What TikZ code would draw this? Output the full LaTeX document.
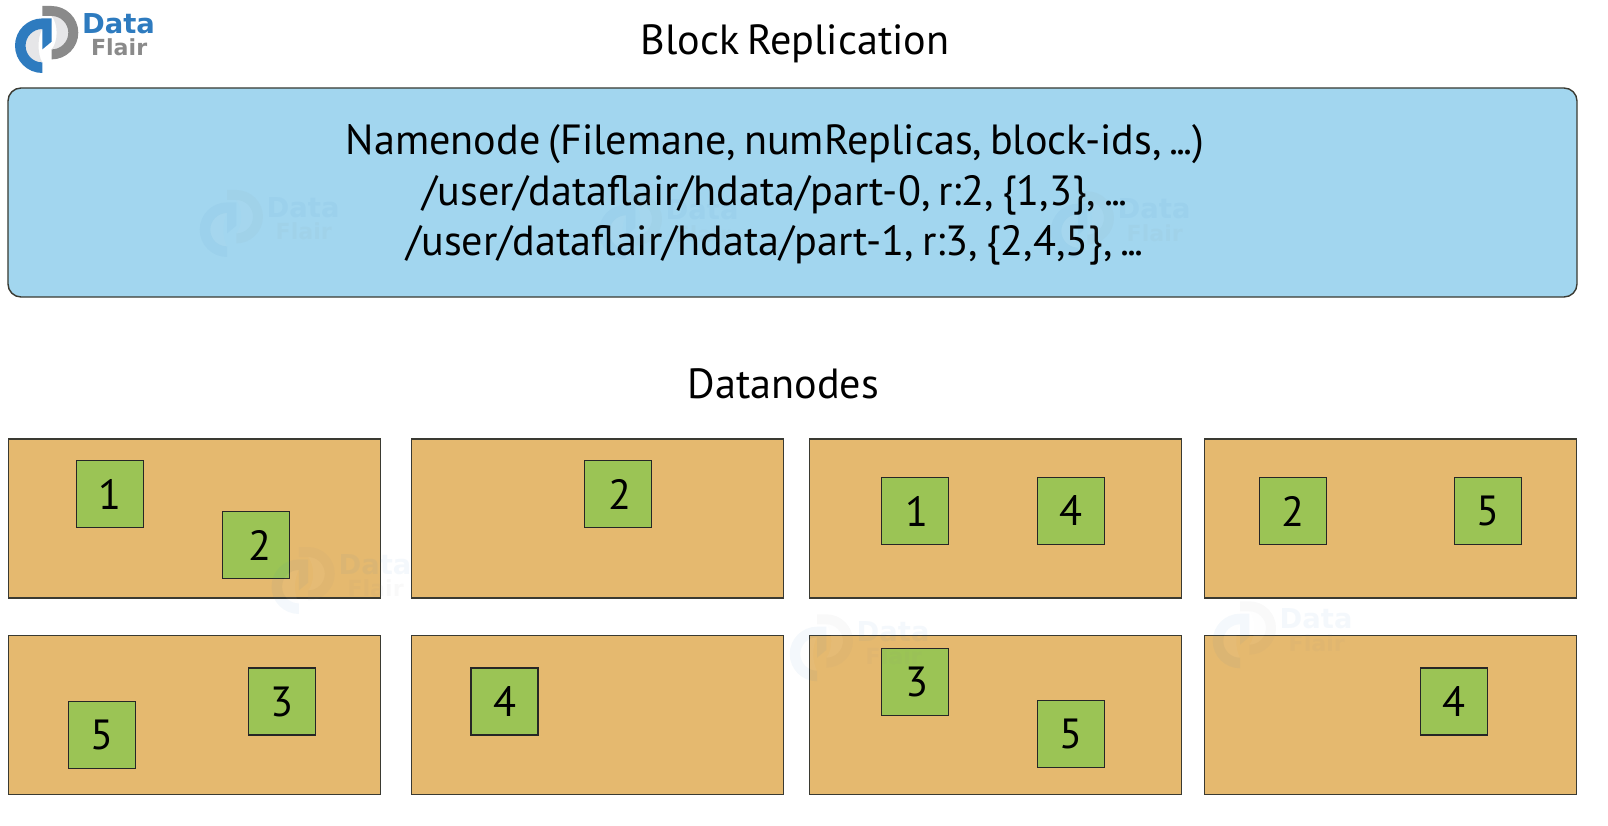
\documentclass[tikz,border=0pt]{standalone}
\usepackage{fontspec}
\setmainfont[WordSpace=0.7]{PT Sans}
\newfontfamily\logofont{DejaVu Sans}
\usepackage{tikz}
\definecolor{NameBlue}{HTML}{A2D6EF}
\definecolor{NodeOrange}{HTML}{E5B96F}
\definecolor{BlockGreen}{HTML}{9BC455}
\definecolor{EdgeGrey}{HTML}{3A3A32}
\definecolor{LogoBlue}{HTML}{2E7BBF}
\definecolor{LogoGrey}{HTML}{8A8A8A}
\definecolor{LogoPale}{HTML}{E6E6E8}
\newcommand{\tightdots}{.\kern-.05em.\kern-.05em.}

\begin{document}
\begin{tikzpicture}[
        namebox/.style={draw=EdgeGrey, fill=NameBlue, rounded corners=0.13cm, line width=0.4pt,
                    minimum width=15.69cm, minimum height=2.09cm},
        datanode/.style={draw=EdgeGrey, fill=NodeOrange, line width=0.5pt, inner sep=0pt,
                    minimum width=3.72cm, minimum height=1.59cm},
        block/.style={draw=black!85, fill=BlockGreen, line width=0.4pt, inner sep=0pt,
                    minimum width=0.67cm, minimum height=0.67cm, font=\fontsize{12}{12}\selectfont},
        heading/.style={inner sep=0pt, font=\fontsize{12}{14}\selectfont},
        nameinfo/.style={inner sep=0pt, align=center, font=\fontsize{12}{14.4}\selectfont},
        logo/.pic={
            \fill[LogoPale] (0,.167) arc[start angle=90, end angle=270, radius=.167]
                .. controls (-.05,-.08) and (-.05,.08) .. cycle;
            \fill[LogoPale] (.093,.297) arc[start angle=90, end angle=-90, radius=.167]
                .. controls (.16,.04) and (.16,.22) .. cycle;
            \fill[LogoBlue] (0,.273) -- (.093,.273) -- (.093,.04) -- (0,-.037) -- (0,.167)
                arc[start angle=90, end angle=270, radius=.167] -- (0,-.273)
                arc[start angle=270, end angle=90, radius=.273] -- cycle;
            \fill[LogoGrey] (0,.397) -- (.093,.397) arc[start angle=90, end angle=-90, radius=.267]
                -- (.093,-.037) arc[start angle=-90, end angle=90, radius=.167] -- (0,.297) -- cycle;
            \node[anchor=west, inner sep=0pt, text=LogoBlue, font=\logofont\bfseries\fontsize{7.8}{8}\selectfont] (-data) at (.39,.22) {Data};
            \node[anchor=west, inner sep=0pt, text=LogoGrey, font=\logofont\bfseries\fontsize{6.3}{7}\selectfont] (-flair) at (.48,-.02) {Flair};
        }
]
    \useasboundingbox (0,0) rectangle (16.08,-8.26);

    \node[heading] (title) at (7.95,-0.44) {Block Replication};
    \node[namebox] (namenode) at (7.925,-1.925) {};
    \node[nameinfo] (nameinfo) at (7.75,-1.95) {Namenode (Filemane, numReplicas, block-ids, \tightdots)\\
        /user/dataflair/hdata/part-0, r:2, \{1,3\}, \tightdots\\
        /user/dataflair/hdata/part-1, r:3, \{2,4,5\}, \tightdots};
    \node[heading] (datanodes) at (7.835,-3.835) {Datanodes};

    % upper row
    \node[datanode] (dn1) at (1.945,-5.185) {};
    \node[datanode] (dn2) at (5.975,-5.185) {};
    \node[datanode] (dn3) at (9.955,-5.185) {};
    \node[datanode] (dn4) at (13.905,-5.185) {};
    % lower row
    \node[datanode] (dn5) at (1.945,-7.15) {};
    \node[datanode] (dn6) at (5.975,-7.15) {};
    \node[datanode] (dn7) at (9.955,-7.15) {};
    \node[datanode] (dn8) at (13.905,-7.15) {};

    \node[block] (b1a) at (1.10,-4.94) {1};
    \node[block] (b2a) at (2.56,-5.45) {\kern2pt2};
    \node[block] (b2b) at (6.18,-4.94) {\kern1pt2};
    \node[block] (b1b) at (9.15,-5.11) {\kern1pt1};
    \node[block] (b4a) at (10.71,-5.11) {4};
    \node[block] (b2c) at (12.93,-5.11) {2};
    \node[block] (b5a) at (14.88,-5.11) {5};
    \node[block] (b5b) at (1.02,-7.35) {5};
    \node[block] (b3a) at (2.82,-7.015) {3};
    \node[block] (b4b) at (5.045,-7.015) {4};
    \node[block] (b3b) at (9.15,-6.82) {\kern1pt3};
    \node[block] (b5c) at (10.71,-7.34) {5};
    \node[block] (b4c) at (14.54,-7.015) {4};

    % brand marks
    \pic (mark) at (0.423,-0.457) {logo};
    \pic[opacity=0.05] (wmA) at (2.27,-2.297) {logo};
    \pic[opacity=0.05] (wmB) at (6.26,-2.32) {logo};
    \pic[opacity=0.05] (wmC) at (10.78,-2.31) {logo};
    \pic[opacity=0.05] (wmD) at (2.988,-5.867) {logo};
    \pic[opacity=0.05] (wmE) at (8.17,-6.54) {logo};
    \pic[opacity=0.05] (wmF) at (12.40,-6.41) {logo};
\end{tikzpicture}
\end{document}
